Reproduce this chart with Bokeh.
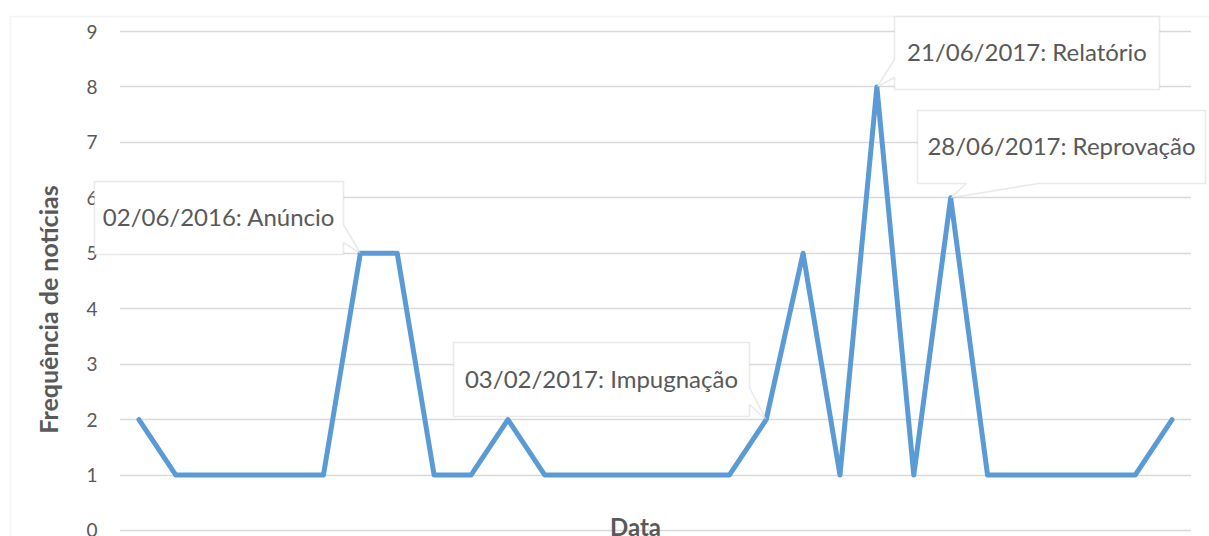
import math
from bokeh.plotting import figure
from bokeh.models import Range1d, FixedTicker, Label, PolyAnnotation, ColumnDataSource
from bokeh.embed import file_html
from bokeh.resources import INLINE

# ---------------- data ----------------
values = [2, 1, 1, 1, 1, 1, 5, 5, 1, 1, 2, 1, 1, 1, 1, 1, 1, 2, 5, 1, 8, 1, 6, 1, 1, 1, 1, 1, 2]
x_index = list(range(len(values)))
y_ticks = [0, 1, 2, 3, 4, 5, 6, 7, 8, 9]
annot_idx = [6, 17, 20, 22]
annot_text = ["02/06/2016: Anúncio", "03/02/2017: Impugnação",
              "21/06/2017: Relatório", "28/06/2017: Reprovação"]
y_title = "Frequência de notícias"
x_title = "Data"

# ---------------- layout (canvas pixels) ----------------
W, H = 1209, 536
PL, PR, PT, P0 = 120, 1190, 31, 530      # plot area: left, right, top, y=0 line
XS, XE = -0.5, len(values) - 0.5
YTOP = 9
xppu = (PR - PL) / (XE - XS)
yppu = (P0 - PT) / YTOP


def px2x(px):
    return XS + (px - PL) / xppu


def py2y(py):
    return (P0 - py) / yppu


FONT = "Lato"
GREY = "#595959"

p = figure(width=W, height=H, output_backend="svg", toolbar_location=None,
           x_axis_location=None,
           x_range=Range1d(px2x(0), px2x(W)), y_range=Range1d(py2y(H), py2y(0)),
           min_border=0, min_border_left=0, min_border_right=0,
           min_border_top=0, min_border_bottom=0)
p.outline_line_color = None
p.background_fill_color = "white"
p.border_fill_color = "white"
p.xgrid.visible = False
p.ygrid.grid_line_color = "#d9d9d9"
p.ygrid.grid_line_width = 1.3
p.ygrid.ticker = FixedTicker(ticks=y_ticks)

ya = p.yaxis[0]
ya.fixed_location = XS
ya.ticker = FixedTicker(ticks=y_ticks)
ya.axis_line_color = None
ya.major_tick_line_color = None
ya.minor_tick_line_color = None
ya.major_tick_out = 0
ya.major_tick_in = 0
ya.major_label_standoff = 23
ya.major_label_text_font = FONT
ya.major_label_text_font_size = "19px"
ya.major_label_text_color = GREY

# keep gridlines inside the plot area
for a, b in [(0, PL - 0.5), (PR + 0.5, W)]:
    p.add_layout(PolyAnnotation(xs=[px2x(a), px2x(b), px2x(b), px2x(a)],
                                ys=[py2y(-5), py2y(-5), py2y(H + 5), py2y(H + 5)],
                                fill_color="white", fill_alpha=1, line_alpha=0,
                                level="underlay"))

src = ColumnDataSource(dict(x=x_index, y=values))
p.line("x", "y", source=src, line_color="#5B9BD5", line_width=5,
       line_join="round", line_cap="round")

# chart area border
p.add_layout(PolyAnnotation(
    xs=[px2x(10), px2x(1400), px2x(1400), px2x(10)],
    ys=[py2y(16), py2y(16), py2y(800), py2y(800)],
    fill_alpha=0, line_color="#d9d9d9", line_width=1.5))

# callout boxes: (left, right, top, bottom, side, a, b) in canvas px
boxes = [
    (94, 343, 181, 254, "right", 224, 242),
    (453, 749, 342, 416, "right", 387, 404),
    (894, 1159, 16, 89, "left", 59, 77),
    (917, 1205, 110, 183, "bottom", 966, 1038),
]

for (l, r, t, b, side, a, c), idx, txt in zip(boxes, annot_idx, annot_text):
    tipx, tipy = idx, values[idx]
    L, R, T, B = px2x(l), px2x(r), py2y(t), py2y(b)
    if side == "right":
        xs = [L, R, R, tipx, R, R, L]
        ys = [T, T, py2y(a), tipy, py2y(c), B, B]
    elif side == "left":
        xs = [L, R, R, L, L, tipx, L]
        ys = [T, T, B, B, py2y(c), tipy, py2y(a)]
    else:
        xs = [L, R, R, px2x(c), tipx, px2x(a), L]
        ys = [T, T, B, B, tipy, B, B]
    p.add_layout(PolyAnnotation(xs=xs, ys=ys, fill_color="white", fill_alpha=1,
                                line_color="#b8b8b8", line_width=1.6))
    p.add_layout(Label(x=px2x((l + r) / 2), y=py2y((t + b) / 2 - 1.5),
                       x_units="data", y_units="data", text=txt,
                       text_align="center", text_baseline="middle",
                       text_font=FONT, text_font_size="24px", text_color=GREY))

# axis titles
p.add_layout(Label(x=px2x(47), y=py2y(309), x_units="data", y_units="data",
                   text=y_title, angle=math.pi / 2, text_align="center",
                   text_baseline="middle", text_font=FONT, text_font_size="25px",
                   text_font_style="bold", text_color=GREY))
p.add_layout(Label(x=px2x(635), y=py2y(525.5), x_units="data", y_units="data",
                   text=x_title, text_align="center", text_baseline="middle",
                   text_font=FONT, text_font_size="24px",
                   text_font_style="bold", text_color=GREY))

open("out.html", "w").write(file_html(p, INLINE))
